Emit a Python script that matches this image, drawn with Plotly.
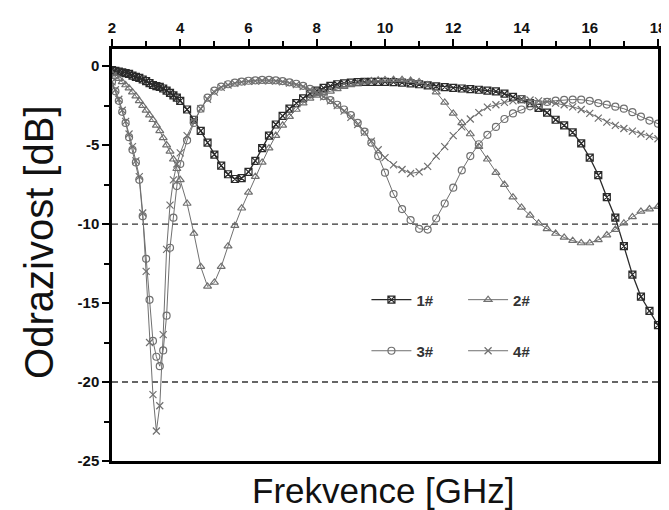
import plotly.graph_objects as go

# ---- data ----
freq = [2.0, 2.1, 2.2, 2.3, 2.4, 2.5, 2.6, 2.7, 2.8, 2.9, 3.0, 3.1, 3.2, 3.3, 3.4, 3.5, 3.6, 3.7, 3.8, 3.9, 4.0,
        4.2, 4.4, 4.6, 4.8, 5.0, 5.2, 5.4, 5.6, 5.8, 6.0, 6.2, 6.4, 6.6, 6.8, 7.0, 7.2, 7.4, 7.6, 7.8, 8.0,
        8.2, 8.4, 8.6, 8.8, 9.0, 9.2, 9.4, 9.6, 9.8, 10.0,
        10.25, 10.5, 10.75, 11.0, 11.25, 11.5, 11.75, 12.0, 12.25, 12.5, 12.75, 13.0, 13.25, 13.5, 13.75, 14.0,
        14.25, 14.5, 14.75, 15.0, 15.25, 15.5, 15.75, 16.0, 16.25, 16.5, 16.75, 17.0, 17.25, 17.5, 17.75, 18.0]

s1 = [-0.25, -0.3, -0.35, -0.4, -0.45, -0.5, -0.6, -0.68, -0.75, -0.85, -0.95, -1.08, -1.2, -1.27, -1.32, -1.42, -1.55, -1.7, -1.85, -2.0, -2.2,
      -2.75, -3.4, -4.1, -4.85, -5.6, -6.3, -6.85, -7.15, -7.1, -6.7, -6.0, -5.2, -4.4, -3.7, -3.15, -2.7, -2.35, -2.05, -1.75, -1.55,
      -1.38, -1.25, -1.15, -1.1, -1.05, -1.02, -1.0, -1.0, -1.0, -1.0,
      -1.02, -1.05, -1.1, -1.15, -1.22, -1.28, -1.33, -1.38, -1.42, -1.46, -1.5, -1.55, -1.6, -1.75, -1.95, -2.1,
      -2.35, -2.65, -2.95, -3.4, -3.75, -4.2, -4.9, -5.8, -6.9, -8.3, -9.6, -11.4, -13.2, -14.6, -15.5, -16.4]

s2 = [-0.5, -0.65, -0.8, -1.0, -1.2, -1.4, -1.65, -1.9, -2.2, -2.5, -2.8, -3.1, -3.4, -3.75, -4.1, -4.55, -5.0, -5.4, -5.9, -6.5, -7.2,
      -8.7, -10.6, -12.7, -13.95, -13.7, -12.7, -11.4, -10.1, -9.0, -8.0, -7.0, -6.1, -5.2, -4.4, -3.75, -3.2, -2.75, -2.35, -2.05, -1.85,
      -1.7, -1.6, -1.45, -1.3, -1.2, -1.1, -1.02, -0.95, -0.9, -0.88,
      -0.86, -0.87, -0.92, -1.0, -1.2, -1.65, -2.3, -3.0, -3.6, -4.3, -5.1, -5.9, -6.75, -7.5, -8.3, -8.95,
      -9.45, -9.95, -10.3, -10.6, -10.85, -11.05, -11.2, -11.2, -11.0, -10.7, -10.35, -9.95, -9.55, -9.2, -9.05, -8.9]

s3 = [-1.0, -1.6, -2.2, -2.9, -3.6, -4.5, -5.3, -6.1, -7.2, -9.5, -12.2, -14.8, -17.4, -18.4, -19.0, -18.0, -15.8, -11.5, -9.6, -7.6, -6.2,
      -4.7, -3.6, -2.7, -2.0, -1.55, -1.3, -1.15, -1.05, -0.98, -0.93, -0.9, -0.88, -0.88, -0.9, -0.95, -1.03, -1.12, -1.25, -1.45, -1.65,
      -1.9, -2.15, -2.45, -2.75, -3.1, -3.6, -4.15, -4.85, -5.7, -6.75,
      -8.1, -9.05, -9.75, -10.3, -10.35, -9.65, -8.7, -7.7, -6.6, -5.7, -4.95, -4.35, -3.85, -3.35, -3.0, -2.75,
      -2.55, -2.4, -2.27, -2.19, -2.14, -2.12, -2.13, -2.2, -2.34, -2.44, -2.57, -2.7, -2.92, -3.2, -3.45, -3.65]

s4 = [-1.0, -1.5, -2.1, -2.8, -3.5, -4.3, -5.1, -6.0, -7.0, -9.3, -13.0, -17.5, -20.8, -23.1, -21.5, -17.0, -11.6, -8.8, -7.2, -6.2, -5.5,
      -4.4, -3.5, -2.7, -2.1, -1.65, -1.35, -1.2, -1.1, -1.02, -0.97, -0.95, -0.93, -0.93, -0.95, -1.0, -1.08, -1.18, -1.3, -1.5, -1.7,
      -1.95, -2.2, -2.5, -2.85, -3.25, -3.7, -4.2, -4.75, -5.3, -5.8,
      -6.25, -6.55, -6.8, -6.7, -6.35, -5.7, -5.1, -4.4, -3.85, -3.35, -2.95, -2.6, -2.45, -2.3, -2.2, -2.15,
      -2.15, -2.2, -2.25, -2.35, -2.45, -2.58, -2.75, -3.0, -3.3, -3.55, -3.75, -3.95, -4.12, -4.3, -4.45, -4.6]

series_names = ["1#", "2#", "3#", "4#"]
y_tickvals = [0, -5, -10, -15, -20, -25]
y_ticktext = ["0", "-5", "-10", "-15", "-20", "-25"]
ref_levels = [-10, -20]
x_title = "Frekvence [GHz]"
y_title = "Odrazivost [dB]"

# ---- styling ----
styles = [
    dict(symbol="square-x-open", color="#2a2a2a", size=7, lw=1.3, legend="legend"),
    dict(symbol="triangle-up-open", color="#707070", size=7, lw=1, legend="legend2"),
    dict(symbol="circle-open", color="#707070", size=7, lw=1, legend="legend3"),
    dict(symbol="x-thin-open", color="#707070", size=7, lw=1, legend="legend4"),
]

fig = go.Figure()
for name, ys, st in zip(series_names, [s1, s2, s3, s4], styles):
    fig.add_trace(go.Scatter(
        x=freq, y=ys, name=name, mode="lines+markers", showlegend=True,
        line=dict(color=st["color"], width=st["lw"]),
        marker=dict(symbol=st["symbol"], size=st["size"], color=st["color"],
                    line=dict(width=1.2, color=st["color"])),
        legend=st["legend"],
    ))

for lv in ref_levels:
    fig.add_shape(type="line", xref="paper", x0=0, x1=1, yref="y", y0=lv, y1=lv,
                  line=dict(color="#333333", width=1.3, dash="6px,4px"), layer="below")

tickfont = dict(family="Liberation Sans, Arial", size=15, color="#111", weight="bold")

fig.update_xaxes(range=[2, 18], side="top", tickmode="linear", tick0=2, dtick=2,
                 ticks="outside", ticklen=7, tickwidth=2, tickcolor="black",
                 minor=dict(dtick=1, ticks="outside", ticklen=5, tickwidth=2, tickcolor="black"),
                 showline=True, linewidth=2.5, linecolor="black", mirror=True,
                 showgrid=False, zeroline=False, tickfont=tickfont)
fig.update_yaxes(range=[-25, 1.08], tickmode="array", tickvals=y_tickvals, ticktext=y_ticktext,
                 ticks="outside", ticklen=7, tickwidth=2, tickcolor="black",
                 minor=dict(dtick=2.5, tick0=0, ticks="outside", ticklen=5, tickwidth=2, tickcolor="black"),
                 showline=True, linewidth=2.5, linecolor="black", mirror=True,
                 showgrid=False, zeroline=False, tickfont=tickfont)

legfont = dict(family="Liberation Sans, Arial", size=15, color="#333", weight="bold")
leg_common = dict(bgcolor="rgba(0,0,0,0)", font=legfont, xanchor="left", yanchor="middle", itemwidth=40)
fig.update_layout(
    width=669, height=510, showlegend=True,
    margin=dict(l=104, r=11, t=41, b=57),
    paper_bgcolor="white", plot_bgcolor="white",
    font=dict(family="Liberation Sans, Arial", color="#111"),
    legend=dict(x=0.466, y=0.391, **leg_common),
    legend2=dict(x=0.643, y=0.391, **leg_common),
    legend3=dict(x=0.466, y=0.267, **leg_common),
    legend4=dict(x=0.643, y=0.267, **leg_common),
    annotations=[
        dict(text=x_title, xref="paper", yref="paper", x=0.498, y=(453 - 482) / 412, showarrow=False,
             xanchor="center", yanchor="middle", font=dict(size=35, color="#111")),
        dict(text=y_title, xref="paper", yref="paper", x=-0.135, y=0.53, showarrow=False,
             textangle=-90, xanchor="center", yanchor="middle", font=dict(size=40, color="#111")),
    ],
)

fig.write_html("out.html")
